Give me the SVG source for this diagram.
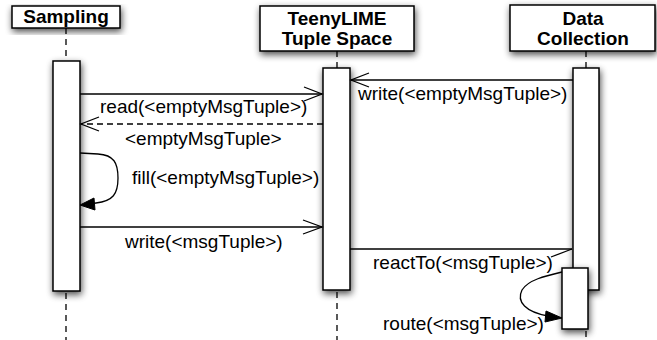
<svg xmlns="http://www.w3.org/2000/svg" width="657" height="340" viewBox="0 0 657 340">
<style>
  .box { fill: #ffffff; stroke: #000000; stroke-width: 1.5; filter: url(#shadow); }
  .head { font-family: "Liberation Sans", Arial, Helvetica, sans-serif; font-size: 19px; font-weight: bold; fill: #000; text-anchor: middle; }
  .lbl { font-family: "Liberation Sans", Arial, Helvetica, sans-serif; font-size: 19px; fill: #000; }
  .life { stroke: #000; stroke-width: 1.3; stroke-dasharray: 6 5; fill: none; }
  .msg { stroke: #000; stroke-width: 1.3; fill: none; }
  .dash { stroke-dasharray: 6 4; }
  .head-fill { fill: #000; stroke: #000; stroke-width: 1; }
</style>
<defs>
  <filter id="shadow" x="-50%" y="-20%" width="200%" height="150%">
    <feGaussianBlur in="SourceAlpha" stdDeviation="3.5"/>
    <feOffset dx="1" dy="3" result="b"/>
    <feComponentTransfer><feFuncA type="linear" slope="0.7"/></feComponentTransfer>
    <feMerge><feMergeNode/><feMergeNode in="SourceGraphic"/></feMerge>
  </filter>
</defs>
<rect width="657" height="340" fill="#ffffff"/>

<g id="lifelines">
  <line class="life" x1="66" y1="28" x2="66" y2="61"/>
  <line class="life" x1="66" y1="293" x2="66" y2="340"/>
  <line class="life" x1="337" y1="51" x2="337" y2="68"/>
  <line class="life" x1="337" y1="292" x2="337" y2="340"/>
  <line class="life" x1="586" y1="51" x2="586" y2="68"/>
  <line class="life" x1="586" y1="331" x2="586" y2="340"/>
</g>

<g id="sampling">
  <rect class="box" x="12" y="6" width="108" height="22"/>
  <text class="head" x="66" y="23">Sampling</text>
  <rect class="box" x="53" y="61" width="27" height="230"/>
</g>

<g id="tuplespace">
  <rect class="box" x="260" y="6" width="154" height="45"/>
  <text class="head" x="337" y="25">TeenyLIME</text>
  <text class="head" x="337" y="45">Tuple Space</text>
  <rect class="box" x="323" y="68" width="27" height="222"/>
</g>

<g id="datacollection">
  <rect class="box" x="510" y="5" width="145" height="46"/>
  <text class="head" x="583" y="25">Data</text>
  <text class="head" x="583" y="45">Collection</text>
  <rect class="box" x="573" y="68" width="26" height="222"/>
  <rect class="box" x="562" y="268" width="26" height="61"/>
</g>

<g id="connectors">
  <!-- read -->
  <line class="msg" x1="80" y1="94" x2="322" y2="94"/>
  <polyline class="msg" points="304,87 322,94 304,101"/>
  <text class="lbl" x="100" y="113">read(&lt;emptyMsgTuple&gt;)</text>

  <!-- write emptyMsgTuple -->
  <line class="msg" x1="573" y1="80" x2="351" y2="80"/>
  <polyline class="msg" points="369,73 351,80 369,87"/>
  <text class="lbl" x="358" y="100">write(&lt;emptyMsgTuple&gt;)</text>

  <!-- return -->
  <line class="msg dash" x1="323" y1="124" x2="81" y2="124"/>
  <polyline class="msg" points="99,117 81,124 99,131"/>
  <text class="lbl" x="125" y="145">&lt;emptyMsgTuple&gt;</text>

  <!-- fill self call -->
  <path class="msg" d="M80,153 L98,154 C114,155 118,163 118,178 C118,194 113,201 96,203 L90,204"/>
  <polygon class="head-fill" points="80,205 94,198 95,210"/>
  <text class="lbl" x="132" y="184">fill(&lt;emptyMsgTuple&gt;)</text>

  <!-- write msgTuple -->
  <line class="msg" x1="80" y1="227" x2="322" y2="227"/>
  <polyline class="msg" points="303,220 322,227 303,234"/>
  <text class="lbl" x="125" y="248">write(&lt;msgTuple&gt;)</text>

  <!-- reactTo -->
  <line class="msg" x1="350" y1="249" x2="572" y2="249"/>
  <line class="msg" x1="572" y1="249" x2="551" y2="257"/>
  <text class="lbl" x="373" y="269">reactTo(&lt;msgTuple&gt;)</text>

  <!-- route self call -->
  <path class="msg" d="M562,272 C545,276 528,280 522,290 C516,302 526,312 548,316"/>
  <polygon class="head-fill" points="562,318 546,311 545,322"/>
  <text class="lbl" x="383" y="330">route(&lt;msgTuple&gt;)</text>
</g>
</svg>
